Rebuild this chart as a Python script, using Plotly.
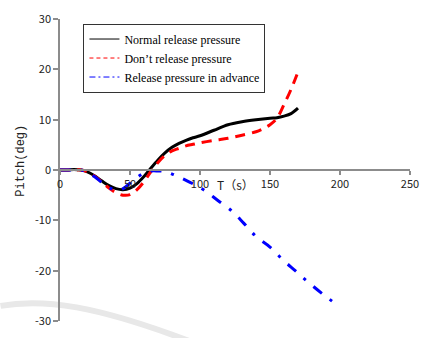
import plotly.graph_objects as go

# Time (s) and pitch (deg) for each case
t_normal = [0, 5, 10, 15, 20, 25, 30, 35, 40, 45, 50, 55, 60, 65, 70, 75, 80, 85, 90, 95,
            100, 110, 120, 130, 140, 150, 155, 160, 165, 170]
pitch_normal = [0, 0, 0.1, 0, -0.4, -1.2, -2.2, -3.1, -3.7, -3.9, -3.6, -2.7, -1.3, 0.4, 2.0,
                3.4, 4.5, 5.3, 5.9, 6.4, 6.8, 7.9, 9.0, 9.6, 10.0, 10.3, 10.4, 10.7, 11.2, 12.3]

t_dont = [0, 5, 10, 15, 20, 25, 30, 35, 40, 45, 50, 55, 60, 65, 70, 75, 80, 85, 90, 95,
          100, 110, 120, 130, 140, 145, 150, 155, 160, 165, 170]
pitch_dont = [0, 0, 0, 0, -0.4, -1.3, -2.4, -3.6, -4.5, -5.0, -4.9, -3.9, -2.3, -0.3, 1.5,
              2.9, 3.8, 4.3, 4.8, 5.1, 5.4, 5.9, 6.3, 6.9, 7.6, 8.2, 9.0, 10.3, 13.0, 16.0, 19.5]

t_adv = [0, 5, 10, 15, 20, 25, 30, 35, 40, 45, 50, 55, 60, 65, 70, 75, 81, 89, 96, 103,
         113, 123, 131, 140, 150, 159, 168, 177, 187, 197]
pitch_adv = [0, 0, 0, 0, -0.5, -1.4, -2.5, -3.5, -4.0, -3.7, -2.6, -1.5, -0.6, -0.2, -0.2,
             -0.3, -0.9, -1.9, -2.9, -4.0, -6.1, -8.2, -10.5, -13.2, -15.3, -17.8, -20.0,
             -22.2, -24.5, -26.6]

names = ["Normal release pressure", "Don\u2019t release pressure", "Release pressure in advance"]
x_ticks = [0, 50, 100, 150, 200, 250]
y_ticks = [-30, -20, -10, 0, 10, 20, 30]

series = [
    (t_normal, pitch_normal, "black", "solid", "solid"),
    (t_dont, pitch_dont, "#ff0000", "10px,7px", "4px,3px"),
    (t_adv, pitch_adv, "#0000ff", "11px,10px,3px,10px", "6px,3px,2px,3px"),
]

fig = go.Figure()
# thick curves (not in legend)
for i, (tx, py, col, dash, _) in enumerate(series):
    fig.add_trace(go.Scatter(x=tx, y=py, mode="lines", name=names[i], legendgroup=str(i),
                             showlegend=False,
                             line=dict(color=col, width=3, shape="spline", dash=dash)))
# thin legend samples
for i, (tx, py, col, _, ldash) in enumerate(series):
    fig.add_trace(go.Scatter(x=[None], y=[None], mode="lines", name=names[i],
                             legendgroup=str(i), showlegend=True,
                             line=dict(color=col, width=1, dash=ldash)))

tick_font = dict(family="Noto Sans CJK JP, DejaVu Sans", size=11, color="#222")

fig.update_layout(
    width=429, height=338,
    margin=dict(l=60, r=12, t=14, b=10),
    paper_bgcolor="white", plot_bgcolor="white",
    showlegend=True,
    legend=dict(x=0.067, y=0.985, xanchor="left", yanchor="top",
                bgcolor="white", bordercolor="#333", borderwidth=1,
                font=dict(family="Liberation Serif", size=12, color="black"),
                tracegroupgap=0, itemwidth=30),
    xaxis=dict(range=[0, 250], tickvals=x_ticks, ticktext=[str(v) for v in x_ticks],
               anchor="free", position=0.5, showgrid=False, zeroline=False,
               showline=True, linecolor="#8c8c8c", linewidth=1.5,
               ticks="outside", ticklen=4, tickcolor="#8c8c8c", tickwidth=1.5,
               tickfont=tick_font),
    yaxis=dict(range=[-30, 30], tickvals=y_ticks, ticktext=[str(v) for v in y_ticks],
               showgrid=False, zeroline=False, showline=True, linecolor="#8c8c8c",
               linewidth=1.5, ticks="outside", ticklen=5, tickcolor="#8c8c8c",
               tickwidth=1.5, tickfont=tick_font),
    annotations=[
        dict(text="T\uff08s\uff09", x=125.5, y=-2.9, xref="x", yref="y", showarrow=False,
             xanchor="center", yanchor="middle",
             font=dict(family="Noto Sans CJK JP", size=12, color="#222")),
        dict(text="Pitch(deg)", x=-0.112, y=0.53, xref="paper", yref="paper",
             showarrow=False, textangle=-90, xanchor="center", yanchor="middle",
             font=dict(family="Liberation Mono", size=12, color="#222")),
    ],
    shapes=[dict(type="path", xref="paper", yref="paper",
                 path="M -0.17 0.05 C -0.05 0.075, 0.1 0.055, 0.40 -0.08",
                 line=dict(color="#e8e8e8", width=6), layer="below")],
)

fig.write_html("out.html")
